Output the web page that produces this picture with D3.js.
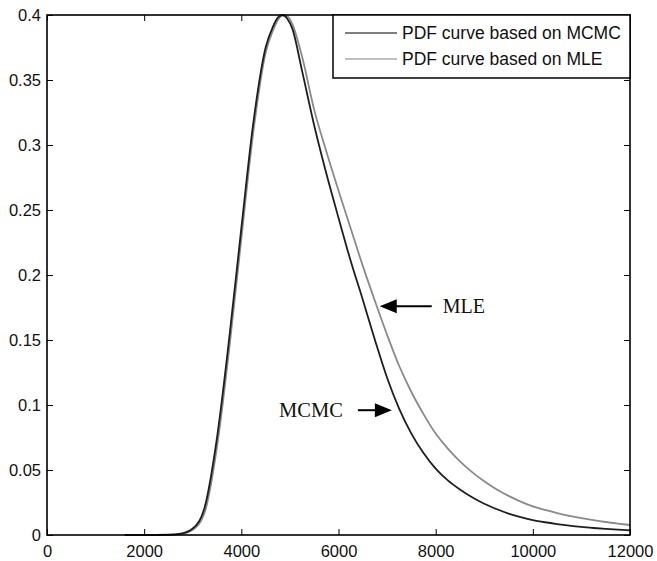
<!DOCTYPE html>
<html>
<head>
<meta charset="utf-8">
<script src="https://cdn.jsdelivr.net/npm/d3@7"></script>
<style>
  html, body { margin: 0; padding: 0; background: #fff; }
  svg { display: block; }
</style>
</head>
<body>
<svg id="chart" width="657" height="561"></svg>
<script>
// ---- data ----
const xValues = [1600, 2000, 2500, 2750, 3000, 3250, 3500, 3750, 4000, 4250, 4500, 4650, 4750, 4850,
  4950, 5050, 5250, 5500, 5750, 6000, 6250, 6500, 6750, 7000, 7250, 7500, 7750, 8000, 8250, 8500, 8750,
  9000, 9250, 9500, 9750, 10000, 10250, 10500, 10750, 11000, 11250, 11500, 11750, 12000];
const mcmcValues = [0, 0, 0.0002, 0.001, 0.005, 0.022, 0.075, 0.151, 0.236, 0.318, 0.375, 0.391, 0.398, 0.4,
  0.397, 0.3895, 0.357, 0.315, 0.278, 0.244, 0.211, 0.181, 0.150, 0.121, 0.097, 0.078, 0.063, 0.051, 0.042, 0.035, 0.029,
  0.024, 0.020, 0.0165, 0.0138, 0.0115, 0.0098, 0.0084, 0.0072, 0.0062, 0.0054, 0.0047, 0.0041, 0.0036];
const mleValues = [0, 0, 0.0001, 0.0007, 0.004, 0.018, 0.068, 0.143, 0.228, 0.311, 0.371, 0.388, 0.396, 0.3995,
  0.399, 0.393, 0.368, 0.327, 0.295, 0.265, 0.236, 0.207, 0.180, 0.154, 0.130, 0.110, 0.093, 0.078, 0.0665, 0.0567, 0.0484,
  0.0413, 0.0352, 0.0301, 0.0257, 0.0220, 0.0193, 0.0169, 0.0148, 0.0130, 0.0114, 0.0100, 0.0088, 0.0077];
const xTicks = [0, 2000, 4000, 6000, 8000, 10000, 12000];
const yTicks = [0, 0.05, 0.1, 0.15, 0.2, 0.25, 0.3, 0.35, 0.4];
const legendLabels = ["PDF curve based on MCMC", "PDF curve based on MLE"];
const annotations = [
  { label: "MLE", x: 6890, y: 0.176, side: "right" },
  { label: "MCMC", x: 7140, y: 0.096, side: "left" }
];

// ---- layout ----
const svg = d3.select("#chart");
const m = { left: 47, right: 630, top: 15, bottom: 535 };
const x = d3.scaleLinear().domain([0, 12000]).range([m.left, m.right]);
const y = d3.scaleLinear().domain([0, 0.4]).range([m.bottom, m.top]);

const tickFont = "'Liberation Sans', Arial, sans-serif";
const colMCMC = "#1e1e1e", colMLE = "#8a8a8a";
const legColMCMC = "#555", legColMLE = "#aaa";

// axes (bottom / left with labels, top / right mirror ticks)
const tickLen = 6;
const gx = svg.append("g").attr("transform", `translate(0,${m.bottom})`)
  .call(d3.axisBottom(x).tickValues(xTicks).tickSize(-tickLen).tickPadding(10).tickFormat(d3.format("d")));
const gy = svg.append("g").attr("transform", `translate(${m.left},0)`)
  .call(d3.axisLeft(y).tickValues(yTicks).tickSize(-tickLen).tickPadding(6).tickFormat(d => d === 0 ? "0" : String(+d.toFixed(2))));
const gxt = svg.append("g").attr("transform", `translate(0,${m.top})`)
  .call(d3.axisTop(x).tickValues(xTicks).tickSize(-tickLen).tickFormat(""));
const gyr = svg.append("g").attr("transform", `translate(${m.right},0)`)
  .call(d3.axisRight(y).tickValues(yTicks).tickSize(-tickLen).tickFormat(""));
[gx, gy, gxt, gyr].forEach(g => {
  g.select(".domain").remove();
  g.selectAll(".tick line").attr("stroke", "#000").attr("stroke-width", 1);
  g.selectAll(".tick text").attr("fill", "#111").style("font-family", tickFont).style("font-size", "16.5px");
});
gx.selectAll(".tick text").attr("dy", "0.71em");
gy.selectAll(".tick text").attr("dy", "0.36em");

// curves
const line = d3.line().curve(d3.curveMonotoneX);
const ptsMLE = xValues.map((v, i) => [x(v), y(mleValues[i])]);
const ptsMCMC = xValues.map((v, i) => [x(v), y(mcmcValues[i])]);
svg.append("path").attr("d", line(ptsMLE)).attr("fill", "none").attr("stroke", colMLE).attr("stroke-width", 1.8);
svg.append("path").attr("d", line(ptsMCMC)).attr("fill", "none").attr("stroke", colMCMC).attr("stroke-width", 1.8);

// box
svg.append("rect").attr("x", m.left).attr("y", m.top).attr("width", m.right - m.left).attr("height", m.bottom - m.top)
  .attr("fill", "none").attr("stroke", "#000").attr("stroke-width", 1.6);

// legend
const lg = svg.append("g");
lg.append("rect").attr("x", 333).attr("y", m.top).attr("width", m.right - 333).attr("height", 63)
  .attr("fill", "#fff").attr("stroke", "#000").attr("stroke-width", 1.5);
[legColMCMC, legColMLE].forEach((c, i) => {
  const yy = 33 + i * 26;
  lg.append("line").attr("x1", 345).attr("x2", 397).attr("y1", yy).attr("y2", yy).attr("stroke", c).attr("stroke-width", 1.5);
  lg.append("text").attr("x", 402).attr("y", yy).attr("dy", "0.36em").text(legendLabels[i])
    .attr("fill", "#111").style("font-family", tickFont).style("font-size", "17.5px");
});

// annotations with arrows
const serif = "'Liberation Serif', 'Times New Roman', serif";
annotations.forEach(a => {
  const tx = x(a.x), ty = y(a.y);
  const g = svg.append("g");
  const tip = tx - 2;
  if (a.side === "right") {
    g.append("line").attr("x1", tip + 14).attr("x2", tip + 52).attr("y1", ty).attr("y2", ty).attr("stroke", "#000").attr("stroke-width", 2);
    g.append("path").attr("d", `M${tip},${ty} L${tip + 17},${ty - 7} L${tip + 17},${ty + 7} Z`).attr("fill", "#000");
    g.append("text").attr("x", tip + 63).attr("y", ty).attr("dy", "0.35em").text(a.label)
      .attr("fill", "#111").style("font-family", serif).style("font-size", "20px");
  } else {
    g.append("line").attr("x1", tip - 14).attr("x2", tip - 34).attr("y1", ty).attr("y2", ty).attr("stroke", "#000").attr("stroke-width", 2);
    g.append("path").attr("d", `M${tip},${ty} L${tip - 17},${ty - 7} L${tip - 17},${ty + 7} Z`).attr("fill", "#000");
    g.append("text").attr("x", tip - 49).attr("y", ty).attr("dy", "0.35em").attr("text-anchor", "end").text(a.label)
      .attr("fill", "#111").style("font-family", serif).style("font-size", "20.5px");
  }
});
</script>
</body>
</html>
